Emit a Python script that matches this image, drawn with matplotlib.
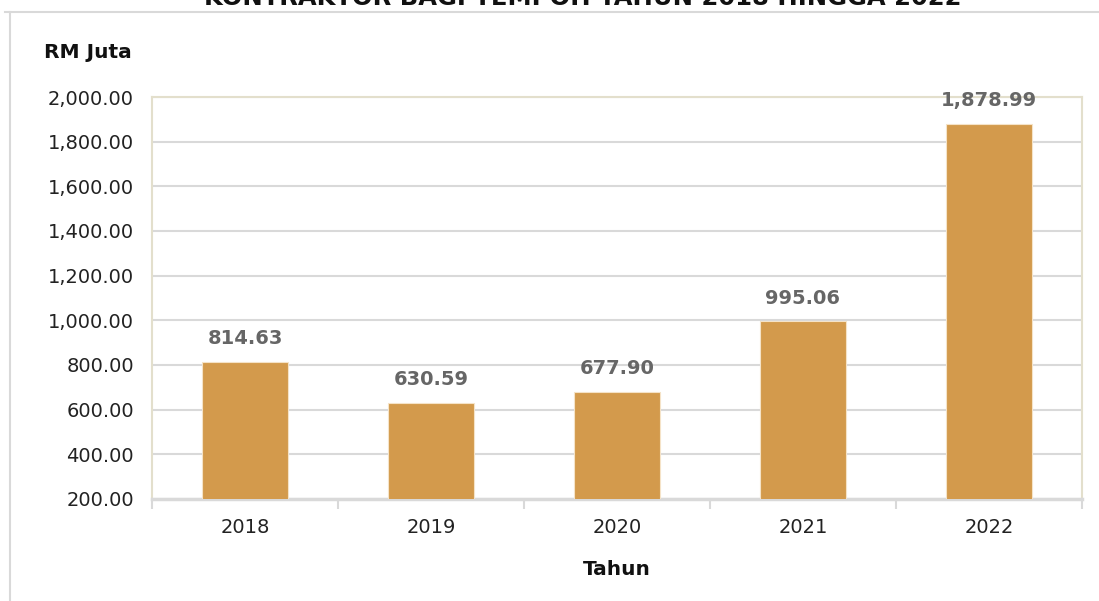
import matplotlib.pyplot as plt
from matplotlib.lines import Line2D
from matplotlib.ticker import FuncFormatter, FixedLocator

years = ["2018", "2019", "2020", "2021", "2022"]
values = [814.63, 630.59, 677.90, 995.06, 1878.99]
title = "KONTRAKTOR BAGI TEMPOH TAHUN 2018 HINGGA 2022"

plt.rcParams['font.family'] = ['DejaVu Sans']

fig = plt.figure(figsize=(10.99, 6.01), dpi=100)
ax = fig.add_axes([152 / 1099, 1 - 499 / 601, 930 / 1099, 402 / 601])

x = list(range(len(years)))
bars = ax.bar(x, values, width=0.46, color='#D39A4C', edgecolor='#F5E3C8', linewidth=0.8, zorder=3)

ax.set_xlim(-0.5, len(years) - 0.5)
ax.set_ylim(200, 2000)
ax.set_yticks(range(200, 2001, 200))
ax.yaxis.set_major_formatter(FuncFormatter(lambda v, p: f"{v:,.2f}"))
ax.grid(axis='y', color='#D9D9D9', linewidth=1.5, zorder=0)

# category labels at centres, tick marks at boundaries
ax.set_xticks(x)
ax.set_xticklabels(years)
ax.tick_params(axis='x', which='major', length=0, pad=14, labelsize=14, labelcolor='#222222')
ax.xaxis.set_minor_locator(FixedLocator([i - 0.5 for i in range(len(years) + 1)]))
ax.tick_params(axis='x', which='minor', length=7, width=1.5, color='#D9D9D9')
ax.tick_params(axis='y', length=0, pad=13, labelsize=14, labelcolor='#222222')

for side in ['top', 'right', 'left']:
    ax.spines[side].set_color('#E3DFCC')
    ax.spines[side].set_linewidth(1.5)
ax.spines['bottom'].set_color('#D9D9D9')
ax.spines['bottom'].set_linewidth(2.5)

for b, v in zip(bars, values):
    ax.annotate(f"{v:,.2f}", (b.get_x() + b.get_width() / 2, v), xytext=(0, 10),
                textcoords='offset points', ha='center', va='bottom',
                fontsize=14, fontweight='bold', color='#666666', zorder=4)

ax.set_xlabel("Tahun", fontsize=14.5, fontweight='bold', labelpad=16, color='#111111')
fig.text(44 / 1099, 1 - 53 / 601, "RM Juta", fontsize=14.5, fontweight='bold',
         ha='left', va='center', color='#111111')

# title cut off by the top edge, as in the source image
fig.text(583 / 1099, 1 - 5 / 601, title, fontsize=17.5, fontweight='bold',
         ha='center', va='baseline', color='#111111')

# outer chart frame
fig.add_artist(Line2D([5 / 1099, 1], [1 - 12 / 601, 1 - 12 / 601], color='#D9D9D9', linewidth=1.5))
fig.add_artist(Line2D([10 / 1099, 10 / 1099], [0, 1 - 12 / 601], color='#D9D9D9', linewidth=1.5))

fig.savefig("out.png", dpi=100)
